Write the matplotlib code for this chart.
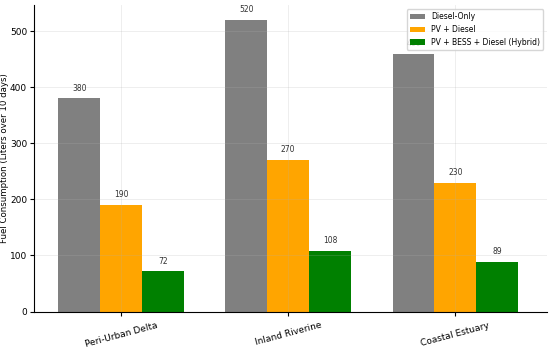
import numpy as np
import matplotlib.pyplot as plt

# fuel consumption per site and configuration
sites = ['Peri-Urban Delta', 'Inland Riverine', 'Coastal Estuary']
diesel_only = [380, 520, 460]
pv_diesel = [190, 270, 230]
hybrid = [72, 108, 89]

series = [
    ('Diesel-Only', diesel_only, 'gray'),
    ('PV + Diesel', pv_diesel, 'orange'),
    ('PV + BESS + Diesel (Hybrid)', hybrid, 'green'),
]

x = np.arange(len(sites))
width = 0.25

fig, ax = plt.subplots(figsize=(5.5, 3.52), dpi=100)

for i, (name, vals, col) in enumerate(series):
    bars = ax.bar(x + (i - 1) * width, vals, width, label=name, color=col)
    for b, v in zip(bars, vals):
        ax.text(b.get_x() + b.get_width() / 2, v + 10, str(v),
                ha='center', va='bottom', fontsize=5.5, color='#333333')

ax.set_xticks(x)
ax.set_xticklabels(sites, rotation=15, fontsize=6.5)
ax.tick_params(axis='y', labelsize=6.5, length=3, pad=2)
ax.tick_params(axis='x', length=3)
ax.set_ylabel('Fuel Consumption (Liters over 10 days)', fontsize=6.2)
ax.yaxis.set_label_coords(-0.048, 0.5)
ax.set_xlim(-0.52, 2.55)
ax.set_ylim(0, 546)
ax.grid(alpha=0.25, linewidth=0.6)
ax.spines['top'].set_visible(False)
ax.spines['right'].set_visible(False)
ax.legend(fontsize=5.5, loc='upper right')

plt.subplots_adjust(left=0.062, right=0.995, top=0.985, bottom=0.115)
plt.savefig('out.png')
